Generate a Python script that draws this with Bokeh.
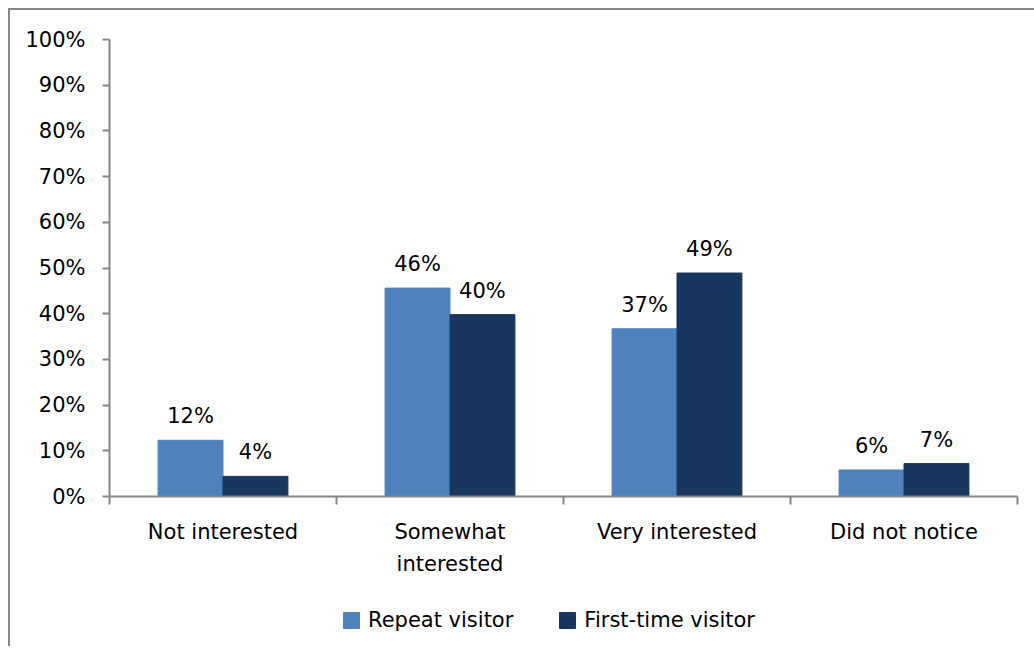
from bokeh.plotting import figure
from bokeh.layouts import column
from bokeh.models import (Range1d, LinearAxis, FixedTicker,
                          PrintfTickFormatter, LabelSet, ColumnDataSource, Legend, LegendItem)
from bokeh.core.properties import value
from bokeh.transform import dodge
from bokeh.embed import file_html
from bokeh.resources import INLINE

categories = ["Not interested", "Somewhat interested", "Very interested", "Did not notice"]
series = ["Repeat visitor", "First-time visitor"]
repeat = [12.3, 45.6, 36.7, 5.8]
first_time = [4.4, 39.8, 48.9, 7.2]
y_ticks = [0, 10, 20, 30, 40, 50, 60, 70, 80, 90, 100]

C_REPEAT = "#4F81BD"
C_FIRST = "#17375E"
GRAY = "#868686"
FONT = "DejaVu Sans"
FS = "21px"
W_FIG = 1024

n = len(categories)
centers = [i + 0.5 for i in range(n)]
src = ColumnDataSource(dict(
    x=centers,
    repeat=repeat,
    first=first_time,
    repeat_lbl=[f"{round(v)}%" for v in repeat],
    first_lbl=[f"{round(v)}%" for v in first_time],
))

p = figure(x_range=Range1d(0, n), y_range=Range1d(0, 100),
           width=W_FIG, height=590, output_backend="svg", toolbar_location=None,
           x_axis_location=None, min_border_left=99, min_border_right=17,
           min_border_top=29, min_border_bottom=104)
p.outline_line_color = None
p.xgrid.visible = False
p.ygrid.visible = False

ya = p.yaxis[0]
ya.ticker = FixedTicker(ticks=y_ticks)
ya.formatter = PrintfTickFormatter(format="%d%%")
ya.major_tick_in = 0
ya.major_tick_out = 7
ya.minor_tick_line_color = None
ya.axis_line_color = GRAY
ya.axis_line_width = 2
ya.major_tick_line_color = GRAY
ya.major_tick_line_width = 2
ya.major_label_standoff = 17
ya.major_label_text_font = FONT
ya.major_label_text_font_size = FS
ya.major_label_text_color = "black"

# boundary ticks axis
ta = LinearAxis(ticker=FixedTicker(ticks=list(range(n + 1))))
ta.major_label_text_font_size = "1px"
ta.major_label_text_color = None
ta.major_label_standoff = 0
ta.major_tick_in = 0
ta.major_tick_out = 8
ta.minor_tick_line_color = None
ta.axis_line_color = GRAY
ta.axis_line_width = 2
ta.major_tick_line_color = GRAY
ta.major_tick_line_width = 2
p.add_layout(ta, "below")

# category label axis
ca = LinearAxis(ticker=FixedTicker(ticks=centers))
ca.axis_line_color = None
ca.major_tick_line_color = None
ca.minor_tick_line_color = None
ca.major_tick_out = 0
ca.major_tick_in = 0
ca.major_label_standoff = 15
ca.major_label_text_font = FONT
ca.major_label_text_font_size = FS
ca.major_label_text_color = "black"
ca.major_label_text_line_height = 1.36
ca.major_label_overrides = {c: name.replace("Somewhat ", "Somewhat\n")
                            for c, name in zip(centers, categories)}
p.add_layout(ca, "below")

OFF = 0.143
W = 0.286
bar_specs = [(-OFF, "repeat", C_REPEAT), (OFF, "first", C_FIRST)]
for off, col, colr in bar_specs:
    p.vbar(x=dodge("x", off), top=col, width=W, source=src,
           fill_color=colr, line_color=colr)

for off, col, lbl in [(-OFF, "repeat", "repeat_lbl"), (OFF, "first", "first_lbl")]:
    p.add_layout(LabelSet(x=dodge("x", off), y=col, text=lbl, source=src,
                          text_align="center", text_baseline="alphabetic", y_offset=17,
                          text_font=value(FONT), text_font_size=value(FS),
                          text_color="black"))

# legend strip: same bar series (hidden), legend placed inside its frame
lg = figure(x_range=Range1d(0, n), y_range=Range1d(-100, -90),
            width=W_FIG, height=46, output_backend="svg", toolbar_location=None,
            x_axis_location=None, y_axis_location=None, min_border=0,
            min_border_left=0, min_border_right=0, min_border_top=0, min_border_bottom=0)
lg.outline_line_color = None
lg.xgrid.visible = False
lg.ygrid.visible = False
lr = []
for off, col, colr in bar_specs:
    r = lg.vbar(x=dodge("x", off), top=col, width=W, source=src,
                fill_color=colr, line_color=colr)
    r.visible = False
    lr.append(r)

legend = Legend(items=[LegendItem(label=s, renderers=[r]) for s, r in zip(series, lr)],
                orientation="horizontal", location=(232, 14),
                glyph_width=20, glyph_height=20, label_standoff=7, spacing=44,
                border_line_color=None, background_fill_alpha=0,
                inactive_fill_alpha=0,
                label_text_font=FONT, label_text_font_size=FS, label_text_color="black",
                margin=0, padding=0)
lg.add_layout(legend, "center")

layout = column(p, lg, spacing=0)
layout.styles = {"margin-left": "8px", "margin-top": "8px",
                 "border-left": "2px solid #888888", "border-top": "2px solid #888888"}

open("out.html", "w").write(file_html(layout, INLINE))
